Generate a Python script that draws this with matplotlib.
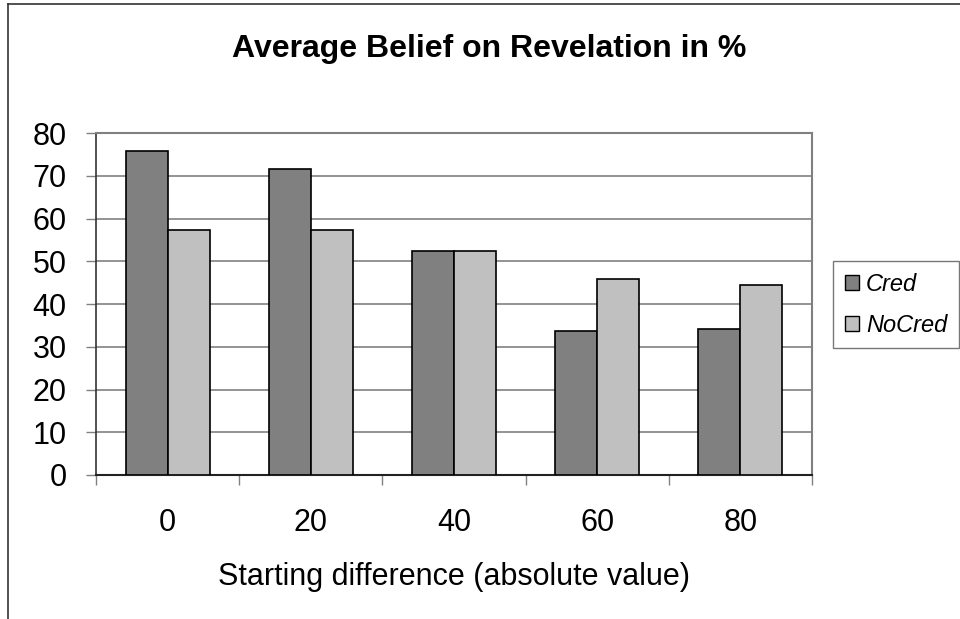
import matplotlib
matplotlib.use("Agg")
import matplotlib.pyplot as plt
import numpy as np
from matplotlib.lines import Line2D
from matplotlib.patches import Patch

categories = ["0", "20", "40", "60", "80"]
cred = [75.7, 71.5, 52.3, 33.7, 34.1]
nocred = [57.2, 57.2, 52.3, 45.8, 44.5]
series_names = ["Cred", "NoCred"]
yticks = [0, 10, 20, 30, 40, 50, 60, 70, 80]

plt.rcParams['font.family'] = ['Liberation Sans', 'DejaVu Sans']

fig = plt.figure(figsize=(9.6, 6.19), dpi=100)
ax = fig.add_axes([96/960, 1-475/619, 716/960, 342/619])

x = np.arange(len(categories))
w = 0.293
ax.bar(x - w/2, cred, width=w, color="#808080", edgecolor="black", linewidth=1.2, zorder=3)
ax.bar(x + w/2, nocred, width=w, color="#C0C0C0", edgecolor="black", linewidth=1.2, zorder=3)

ax.set_xlim(-0.5, len(categories) - 0.5)
ax.set_ylim(0, 80)
ax.set_yticks(yticks)
ax.set_yticklabels([str(v) for v in yticks], fontsize=22)
ax.set_xticks(x)
ax.set_xticklabels(categories, fontsize=22)
ax.tick_params(axis='x', which='major', length=0, pad=24)
ax.set_xticks(np.arange(-0.5, len(categories)), minor=True)
ax.tick_params(axis='x', which='minor', length=7, width=1, color="#808080", direction='out')
ax.tick_params(axis='y', which='major', length=7, width=1, color="#808080", direction='out', pad=14)

ax.yaxis.grid(True, color="#808080", linewidth=1.2, zorder=0)
ax.set_axisbelow(True)
for s in ['top', 'right']:
    ax.spines[s].set_color("#808080")
    ax.spines[s].set_linewidth(1.5)
ax.spines['left'].set_color("#333333")
ax.spines['left'].set_linewidth(1.2)
ax.spines['bottom'].set_color("#222222")
ax.spines['bottom'].set_linewidth(1.5)

ax.set_xlabel("Starting difference (absolute value)", fontsize=22, labelpad=17)
fig.text(489/960, 1-49/619, "Average Belief on Revelation in %", fontsize=23,
         fontweight='bold', ha='center', va='center')

handles = [Patch(facecolor="#808080", edgecolor="black", linewidth=1.0),
           Patch(facecolor="#C0C0C0", edgecolor="black", linewidth=1.0)]
leg = fig.legend(handles, series_names, loc='upper left',
                 bbox_to_anchor=(833/960, 1-261/619), frameon=True, fancybox=False,
                 prop={'style': 'italic', 'size': 17}, handlelength=0.6, handleheight=0.6,
                 handletextpad=0.3, borderpad=0.5, labelspacing=0.75, borderaxespad=0,
                 edgecolor="#555555")
leg.get_frame().set_linewidth(1.0)

# chart area border (left and top visible)
fig.add_artist(Line2D([8/960, 8/960], [0, 1-4/619], transform=fig.transFigure, color="#333333", linewidth=1.2))
fig.add_artist(Line2D([8/960, 1], [1-4/619, 1-4/619], transform=fig.transFigure, color="#333333", linewidth=1.2))

fig.savefig("out.png", dpi=100)
